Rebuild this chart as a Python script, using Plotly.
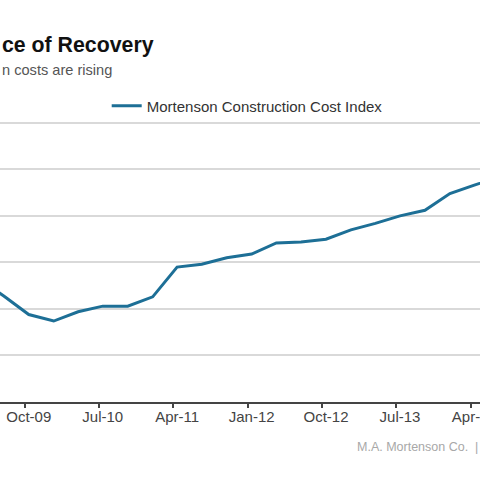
import plotly.graph_objects as go

# Quarterly observations (mid-month dates) of the index
dates = ["2009-04-15", "2009-07-15", "2009-10-15", "2010-01-15", "2010-04-15",
         "2010-07-15", "2010-10-15", "2011-01-15", "2011-04-15", "2011-07-15",
         "2011-10-15", "2012-01-15", "2012-04-15", "2012-07-15", "2012-10-15",
         "2013-01-15", "2013-04-15", "2013-07-15", "2013-10-15", "2014-01-15",
         "2014-04-15", "2014-07-15"]
index_values = [98.2, 96.4, 94.4, 93.7, 94.7,
                95.3, 95.3, 96.3, 99.5, 99.8,
                100.5, 100.9, 102.1, 102.2, 102.5,
                103.5, 104.2, 105.0, 105.6, 107.4,
                108.3, 109.2]

# labels sit on the data points, tick marks at the start of the month
label_dates = ["2009-10-15", "2010-07-15", "2011-04-15", "2012-01-15",
               "2012-10-15", "2013-07-15", "2014-04-15"]
tick_dates = ["2009-10-01", "2010-07-01", "2011-04-01", "2012-01-01",
              "2012-10-01", "2013-07-01", "2014-04-01"]
tick_labels = ["Oct-09", "Jul-10", "Apr-11", "Jan-12", "Oct-12", "Jul-13", "Apr-14"]

series_name = "Mortenson Construction Cost Index"
title_text = "ce of Recovery"
subtitle_text = "n costs are rising"
credit_text = "M.A. Mortenson Co.  |"

FONT = "Liberation Sans, Arial, sans-serif"

W, H = 480, 480
T, B = 121, 78
plot_h = H - T - B


def py(pix):
    """page pixel y -> paper coordinate"""
    return (H - B - pix) / plot_h


fig = go.Figure()
fig.add_trace(go.Scatter(
    x=dates, y=index_values, mode="lines", name=series_name,
    line=dict(color="#1d6f96", width=3),
))

fig.update_layout(
    width=W, height=H,
    margin=dict(l=0, r=0, t=T, b=B, pad=0, autoexpand=False),
    paper_bgcolor="white", plot_bgcolor="white",
    font=dict(family=FONT, color="#333333"),
    showlegend=True,
    legend=dict(orientation="h", x=0.515, xanchor="center", y=py(106), yanchor="middle",
                font=dict(size=15, color="#333333"),
                bgcolor="rgba(0,0,0,0)", itemwidth=30, tracegroupgap=0),
    xaxis=dict(
        type="date", range=["2009-07-01", "2014-05-06"],
        tickvals=label_dates, ticktext=tick_labels, ticks="",
        ticklabeloverflow="allow",
        minor=dict(tickvals=tick_dates, ticks="outside", ticklen=4, tickwidth=2,
                   tickcolor="#444444", showgrid=False),
        showgrid=False, showline=True, linecolor="#444444", linewidth=2,
        tickfont=dict(size=15, color="#444444"), automargin=False,
    ),
    yaxis=dict(
        range=[85, 115.2], tickvals=[90, 95, 100, 105, 110, 115], showticklabels=False,
        showgrid=True, gridcolor="#d9d9d9", gridwidth=1.5,
        zeroline=False, showline=False, automargin=False,
    ),
    annotations=[
        dict(text="<b>" + title_text + "</b>", x=0, y=py(45), xref="paper", yref="paper",
             xanchor="left", yanchor="middle", showarrow=False,
             font=dict(size=21.3, color="#111111", family=FONT)),
        dict(text=subtitle_text, x=0, y=py(70), xref="paper", yref="paper",
             xanchor="left", yanchor="middle", showarrow=False,
             font=dict(size=14.6, color="#555555", family=FONT)),
        dict(text=credit_text, x=1, y=py(447), xref="paper", yref="paper",
             xanchor="right", yanchor="middle", showarrow=False,
             font=dict(size=12.5, color="#a8a8a8", family=FONT)),
    ],
)

fig.write_html("out.html", config={"displayModeBar": False},
               post_script="document.body.style.margin='0';document.body.style.overflow='hidden';")
